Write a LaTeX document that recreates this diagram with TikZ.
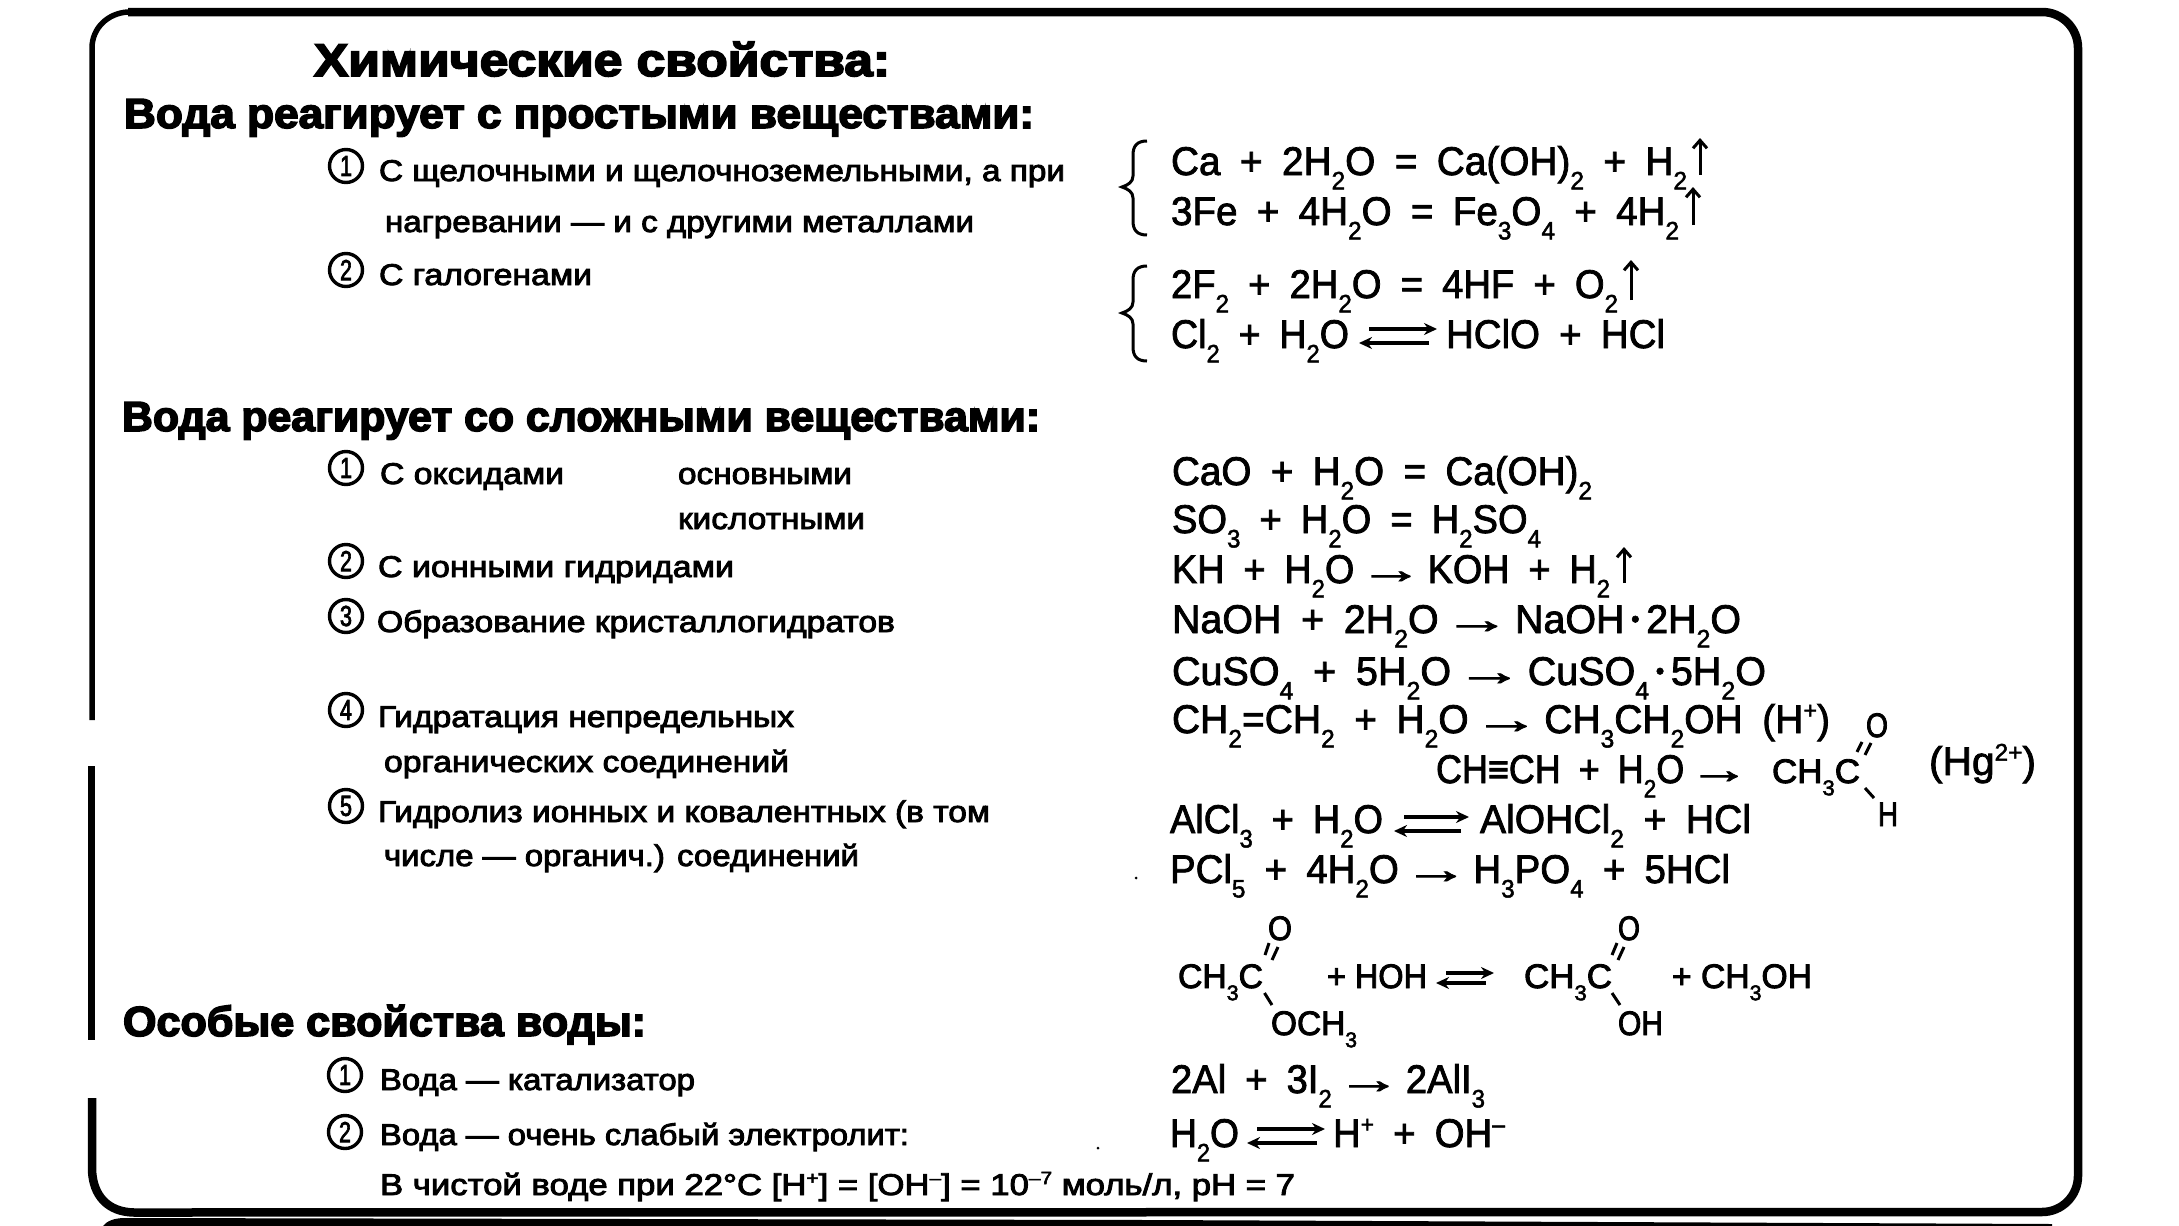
\documentclass[tikz,border=0pt]{standalone}
\usepackage{fontspec}
\usepackage{graphicx}
\usetikzlibrary{arrows.meta}
\setmainfont{Liberation Sans}
\newfontfamily\eqfam[FakeBold=2]{Liberation Sans}
\newfontfamily\chfam[FakeBold=2.6]{Liberation Sans}
\newfontfamily\lbfam[FakeBold=2.8]{Liberation Sans}
\newfontfamily\hdfam[FakeBold=3.6]{Liberation Sans}
\newcommand\dn[1]{\raisebox{-0.36em}{\scalebox{.63}{#1}}}
\newcommand\up[1]{\raisebox{0.36em}{\scalebox{.6}{#1}}}
\newcommand\ra{\hspace{.12em}\scalebox{1.7}[1]{→}\hspace{.12em}}
\newcommand\mdot{\raisebox{.14em}{\scalebox{.62}{•}}}
% name, x, baseline y, width, text
\newcommand\tl[6][txt]{\node[#1] (#2) at (#3,#4) {\resizebox{#5pt}{\height}{#6}};}
\newcommand\tle[5]{\node[eqn] (#1) at (#2,#3) {\resizebox{#4pt}{\height}{\spaceskip=.5em\relax #5}};}
\newcommand\eqarr[5]{% name x1 x2 yupper ylower
  \coordinate (#1ua) at (#2+10,#4); \coordinate (#1ub) at (#3,#4);
  \coordinate (#1la) at (#3-8,#5); \coordinate (#1lb) at (#2,#5);
  \draw[eqline] (#1ua) -- (#1ub); \draw[eqline] (#1la) -- (#1lb);}
\newcommand\uparr[4]{\coordinate (#1a) at (#2,#4); \coordinate (#1b) at (#2,#3); \draw[uparrow] (#1a) -- (#1b);}
\newcommand\bond[5]{\coordinate (#1a) at (#2,#3); \coordinate (#1b) at (#4,#5); \draw[bondln] (#1a) -- (#1b);}
\newcommand\numc[4]{\node[numcirc] (#1) at (#2,#3) {\resizebox{12pt}{\height}{#4}};}
\tikzset{
  txt/.style={anchor=base west,inner sep=0pt,outer sep=0pt,text=black},
  eqn/.style={txt,font=\eqfam\fontsize{40}{40}\selectfont},
  chem/.style={txt,font=\chfam\fontsize{34}{34}\selectfont},
  labl/.style={txt,font=\lbfam\fontsize{30}{30}\selectfont},
  head/.style={txt,font=\hdfam\bfseries\fontsize{42}{42}\selectfont},
  numcirc/.style={circle,draw,line width=3.4pt,minimum size=33pt,inner sep=0pt,font=\lbfam\fontsize{29}{29}\selectfont},
  eqline/.style={line width=3.6pt,-{Stealth[length=13pt,width=12pt]}},
  uparrow/.style={line width=3pt,-{Straight Barb[length=8pt,width=14pt]}},
  bondln/.style={line width=3pt},
  frameln/.style={line width=8.5pt,draw=black},
  bracel/.style={line width=3pt,draw=black},
}
\begin{document}
\begin{tikzpicture}[x=1pt,y=-1pt]
\path[fill=white,use as bounding box] (0,0) rectangle (2179,1226);
% frame
\draw[frameln] (128,12) -- (2042,12) arc[start angle=-90,end angle=0,radius=36] -- (2078,1176) arc[start angle=0,end angle=90,radius=36] -- (134,1212.5) .. controls (108,1212) and (93,1196) .. (92,1170) -- (92,1098);
\draw[line width=5.5pt] (92,720) -- (92,48) .. controls (92,28) and (108,13) .. (128,12);
\draw[line width=7pt] (91,766) -- (91,1040);
\fill (103,1226) .. controls (107,1221) and (114,1218) .. (125,1218) -- (1150,1220) -- (2052,1224) -- (2052,1226) -- cycle;
% headings
\tl[head]{t0}{314}{76}{576}{\fontsize{46}{46}\selectfont Химические свойства:}
\tl[head]{h1}{124}{128}{910}{Вода реагирует с простыми веществами:}
\tl[head]{h2}{122}{431}{918}{Вода реагирует со сложными веществами:}
\tl[head]{h3}{123}{1036}{523}{Особые свойства воды:}
% labels
\numc{n11}{346}{166}{1}
\tl[labl]{l11}{379}{181}{686}{С щелочными и щелочноземельными, а при}
\tl[labl]{l12}{385}{232}{589}{нагревании — и с другими металлами}
\numc{n12}{346}{270}{2}
\tl[labl]{l13}{379}{285}{213}{С галогенами}
\numc{n21}{346}{468}{1}
\tl[labl]{l21}{380}{484}{184}{С оксидами}
\tl[labl]{l21a}{678}{484}{174}{основными}
\tl[labl]{l21b}{678}{529}{187}{кислотными}
\numc{n22}{346}{561}{2}
\tl[labl]{l22}{378}{577}{356}{С ионными гидридами}
\numc{n23}{346}{616}{3}
\tl[labl]{l23}{377}{632}{518}{Образование кристаллогидратов}
\numc{n24}{346}{710}{4}
\tl[labl]{l24}{378}{727}{416}{Гидратация непредельных}
\tl[labl]{l24b}{384}{772}{405}{органических соединений}
\numc{n25}{346}{806}{5}
\tl[labl]{l25}{378}{822}{612}{Гидролиз ионных и ковалентных (в том}
\tl[labl]{l25b}{384}{866}{475}{числе — органич.) соединений}
\numc{n31}{345}{1075}{1}
\tl[labl]{l31}{380}{1090}{315}{Вода — катализатор}
\numc{n32}{345}{1132}{2}
\tl[labl]{l32}{380}{1145}{529}{Вода — очень слабый электролит:}
\tl[labl]{l33}{380}{1195}{915}{В чистой воде при 22°С [H\up{+}] = [OH\up{–}] = 10\up{–7} моль/л, pH = 7}
% braces
\draw[bracel] (1147,141) .. controls (1137,141) and (1133,146) .. (1133,155) -- (1133,176) .. controls (1133,182) and (1128,185) .. (1122,187) .. controls (1128,189) and (1133,192) .. (1133,198) -- (1133,221) .. controls (1133,230) and (1137,235) .. (1147,235);
\draw[bracel] (1147,266) .. controls (1137,266) and (1133,271) .. (1133,280) -- (1133,302) .. controls (1133,308) and (1128,311) .. (1122,313) .. controls (1128,315) and (1133,318) .. (1133,324) -- (1133,347) .. controls (1133,356) and (1137,361) .. (1147,361);
% equations
\tle{e1}{1171}{175}{516}{Ca + 2H\dn{2}O = Ca(OH)\dn{2} + H\dn{2}}
\uparr{a1}{1700}{138}{175}
\tle{e2}{1171}{225}{508}{3Fe + 4H\dn{2}O = Fe\dn{3}O\dn{4} + 4H\dn{2}}
\uparr{a2}{1693}{187}{225}
\tle{e3}{1171}{298}{447}{2F\dn{2} + 2H\dn{2}O = 4HF + O\dn{2}}
\uparr{a3}{1631}{260}{300}
\tle{e4}{1171}{348}{178}{Cl\dn{2} + H\dn{2}O}
\eqarr{q1}{1359}{1437}{329}{343}
\tle{e4b}{1446}{348}{219}{HClO + HCl}
\tle{e5}{1172}{485}{420}{CaO + H\dn{2}O = Ca(OH)\dn{2}}
\tle{e6}{1172}{533}{369}{SO\dn{3} + H\dn{2}O = H\dn{2}SO\dn{4}}
\tle{e7}{1172}{583}{438}{KH + H\dn{2}O\ra{}KOH + H\dn{2}}
\uparr{a4}{1624}{547}{583}
\tle{e8}{1172}{633}{569}{NaOH + 2H\dn{2}O\ra{}NaOH\,\mdot\,2H\dn{2}O}
\tle{e9}{1172}{685}{594}{CuSO\dn{4} + 5H\dn{2}O\ra{}CuSO\dn{4}\,\mdot\,5H\dn{2}O}
\tle{e10}{1172}{733}{658}{CH\dn{2}=CH\dn{2} + H\dn{2}O\ra{}CH\dn{3}CH\dn{2}OH (H\up{+})}
\tle{e11}{1436}{783}{318}{CH≡CH + H\dn{2}O\ra}
\tl[chem]{c1}{1772}{783}{88}{CH\dn{3}C}
\tl[chem]{c1o}{1866}{737}{22}{O}
\bond{b1}{1857}{752}{1862}{742}
\bond{b2}{1865}{755}{1871}{743}
\bond{b3}{1865}{788}{1874}{798}
\tl[chem]{c1h}{1878}{826}{20}{H}
\tle{e11h}{1929}{775}{107}{(Hg\up{2+})}
\tle{e12}{1170}{833}{213}{AlCl\dn{3} + H\dn{2}O}
\eqarr{q2}{1394}{1469}{817}{831}
\tle{e12b}{1480}{833}{271}{AlOHCl\dn{2} + HCl}
\tle{e13}{1170}{883}{560}{PCl\dn{5} + 4H\dn{2}O\ra{}H\dn{3}PO\dn{4} + 5HCl}
% ester hydrolysis
\tl[chem]{c2}{1178}{988}{85}{CH\dn{3}C}
\tl[chem]{c2o}{1268}{940}{24}{O}
\bond{b4}{1265}{955}{1269}{943}
\bond{b5}{1272}{960}{1278}{947}
\bond{b6}{1264.5}{993}{1272}{1005}
\tl[chem]{c2m}{1271}{1035}{86}{OCH\dn{3}}
\tl[chem]{c3}{1327}{988}{100}{+ HOH}
\eqarr{q3}{1436}{1494}{973}{983}
\tl[chem]{c4}{1524}{988}{88}{CH\dn{3}C}
\tl[chem]{c4o}{1618}{940}{22}{O}
\bond{b7}{1612}{955}{1617}{943}
\bond{b8}{1618}{960}{1624}{947}
\bond{b9}{1612}{993}{1620}{1005}
\tl[chem]{c4h}{1618}{1035}{45}{OH}
\tl[chem]{c5}{1672}{988}{140}{+ CH\dn{3}OH}
% last
\tle{e14}{1171}{1093}{314}{2Al + 3I\dn{2}\ra{}2AlI\dn{3}}
\tle{e15}{1170}{1147}{69}{H\dn{2}O}
\eqarr{q4}{1247}{1325}{1129}{1143}
\tle{e15b}{1333}{1147}{172}{H\up{+} + OH\up{–}}
% specks
\fill (1136,878) circle[radius=1.5pt];
\fill (1098,1148) circle[radius=1.5pt];
\end{tikzpicture}
\end{document}
